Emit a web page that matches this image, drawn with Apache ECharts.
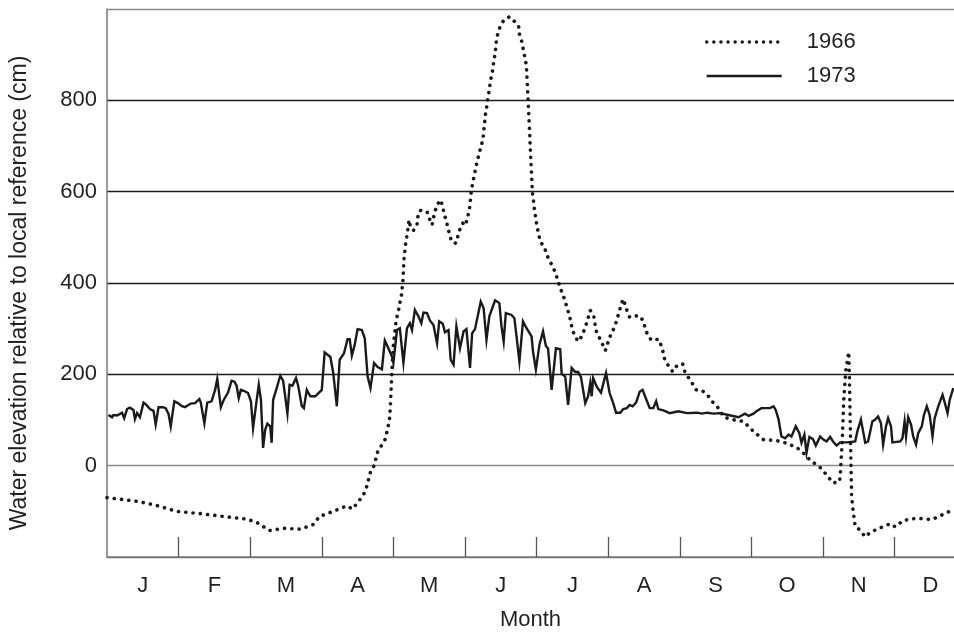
<!DOCTYPE html>
<html>
<head>
    <meta charset="utf-8">
    <title>Water elevation</title>
    <script src="https://cdn.jsdelivr.net/npm/echarts@6/dist/echarts.min.js"></script>
    <style>
        html, body {
            margin: 0;
            padding: 0;
            background: #fff;
        }
        #main {
            width: 954px;
            height: 632px;
        }
    </style>
</head>
<body>
<div id="main"></div>
<script>
    // x is in months from 1 January (0 = start of J, 12 = end of D)
    let monthLabels = ['J', 'F', 'M', 'A', 'M', 'J', 'J', 'A', 'S', 'O', 'N', 'D'];
    let monthBounds = [1, 2, 3, 4, 5, 6, 7, 8, 9, 10, 11];
    let monthCenters = [0.5, 1.5, 2.5, 3.5, 4.5, 5.5, 6.5, 7.5, 8.5, 9.5, 10.5, 11.5];
    let yTicks = [0, 200, 400, 600, 800];

    let x1966 = [0.00, 0.42, 0.69, 0.97, 1.30, 1.67, 1.95, 2.09, 2.27, 2.46, 2.70, 2.88, 2.97, 3.16, 3.35, 3.43,
        3.55, 3.61, 3.68, 3.73, 3.78, 3.89, 3.93, 3.95, 3.966, 3.98, 4.00, 4.036, 4.078, 4.113, 4.134, 4.148,
        4.169, 4.197, 4.218, 4.24, 4.28, 4.33, 4.34, 4.37, 4.47, 4.50, 4.54, 4.56, 4.58, 4.61, 4.66, 4.69,
        4.71, 4.74, 4.76, 4.79, 4.81, 4.87, 4.90, 4.93, 4.97, 5.01, 5.03, 5.06, 5.07, 5.09, 5.11, 5.13,
        5.15, 5.17, 5.20, 5.22, 5.25, 5.26, 5.27, 5.28, 5.29, 5.31, 5.32, 5.34, 5.35, 5.37, 5.39, 5.40,
        5.42, 5.43, 5.44, 5.46, 5.49, 5.54, 5.62, 5.69, 5.75, 5.76, 5.79, 5.81, 5.83, 5.85, 5.86, 5.87,
        5.885, 5.894, 5.904, 5.912, 5.922, 5.932, 5.94, 5.954, 5.964, 5.978, 5.992, 6.01, 6.03, 6.05, 6.11, 6.14,
        6.18, 6.23, 6.27, 6.30, 6.33, 6.37, 6.40, 6.43, 6.46, 6.48, 6.50, 6.54, 6.58, 6.63, 6.67, 6.70,
        6.75, 6.80, 6.83, 6.88, 6.92, 6.96, 6.98, 7.04, 7.09, 7.12, 7.16, 7.18, 7.21, 7.26, 7.30, 7.36,
        7.44, 7.49, 7.52, 7.56, 7.61, 7.70, 7.75, 7.79, 7.84, 7.90, 7.96, 8.04, 8.07, 8.12, 8.18, 8.23,
        8.31, 8.40, 8.45, 8.52, 8.62, 8.73, 8.89, 9.03, 9.17, 9.35, 9.52, 9.68, 9.83, 9.96, 10.06, 10.14,
        10.23, 10.24, 10.27, 10.29, 10.32, 10.36, 10.37, 10.38, 10.39, 10.40, 10.42, 10.45, 10.51, 10.59, 10.66, 10.79,
        10.94, 11.01, 11.12, 11.31, 11.52, 11.62, 11.77, 11.83];
    let y1966 = [-70, -78, -87, -100, -105, -112, -117, -124, -142, -137, -139, -129, -111, -100, -88, -95,
        -71, -56, -14, 0, 30, 59, 89, 108, 159, 210, 265, 315, 345, 374, 407, 451,
        484, 512, 538, 522, 515, 527, 544, 559, 556, 542, 527, 542, 556, 571, 582, 566,
        551, 536, 520, 505, 491, 487, 502, 518, 531, 526, 542, 558, 573, 604, 620, 636,
        651, 667, 683, 698, 713, 729, 745, 760, 775, 791, 807, 822, 837, 853, 869, 885,
        901, 916, 932, 947, 961, 975, 983, 973, 961, 945, 930, 915, 899, 883, 868, 837,
        790, 759, 726, 695, 663, 632, 600, 584, 569, 553, 537, 521, 506, 491, 478, 463,
        449, 435, 419, 404, 389, 374, 359, 344, 328, 313, 297, 283, 272, 283, 299, 313,
        340, 327, 296, 279, 266, 252, 262, 289, 303, 319, 340, 352, 365, 341, 325, 328,
        328, 317, 299, 283, 274, 277, 260, 232, 219, 206, 219, 223, 206, 193, 179, 166,
        165, 152, 141, 130, 106, 101, 97, 75, 57, 55, 48, 35, 11, -4, -22, -38,
        -35, -24, 57, 144, 210, 249, 188, 101, 13, -67, -97, -133, -140, -156, -146, -137,
        -127, -134, -120, -115, -118, -111, -100, -99];

    let x1973 = [0.02, 0.07, 0.09, 0.14, 0.18, 0.21, 0.24, 0.28, 0.32, 0.37, 0.39, 0.42, 0.46, 0.51, 0.55, 0.60,
        0.65, 0.68, 0.72, 0.78, 0.82, 0.86, 0.89, 0.94, 0.99, 1.04, 1.09, 1.12, 1.17, 1.23, 1.29, 1.31,
        1.36, 1.40, 1.46, 1.51, 1.54, 1.59, 1.63, 1.69, 1.74, 1.78, 1.81, 1.84, 1.87, 1.91, 1.97, 2.01,
        2.04, 2.09, 2.12, 2.15, 2.18, 2.21, 2.24, 2.28, 2.30, 2.32, 2.37, 2.42, 2.46, 2.52, 2.55, 2.59,
        2.64, 2.67, 2.72, 2.75, 2.79, 2.84, 2.91, 3.00, 3.04, 3.12, 3.16, 3.21, 3.25, 3.31, 3.36, 3.39,
        3.42, 3.46, 3.50, 3.56, 3.60, 3.64, 3.68, 3.73, 3.78, 3.80, 3.84, 3.88, 3.93, 3.98, 4.00, 4.05,
        4.09, 4.14, 4.19, 4.23, 4.26, 4.30, 4.35, 4.39, 4.42, 4.47, 4.51, 4.56, 4.61, 4.64, 4.69, 4.72,
        4.77, 4.80, 4.84, 4.88, 4.93, 4.98, 5.02, 5.07, 5.10, 5.14, 5.22, 5.26, 5.30, 5.34, 5.42, 5.48,
        5.51, 5.54, 5.57, 5.65, 5.69, 5.72, 5.76, 5.81, 5.86, 5.93, 5.95, 5.99, 6.04, 6.09, 6.13, 6.16,
        6.21, 6.27, 6.33, 6.35, 6.40, 6.44, 6.49, 6.54, 6.58, 6.62, 6.68, 6.72, 6.75, 6.77, 6.79, 6.84,
        6.90, 6.97, 7.02, 7.07, 7.11, 7.17, 7.21, 7.26, 7.30, 7.34, 7.39, 7.44, 7.48, 7.53, 7.58, 7.63,
        7.67, 7.70, 7.77, 7.86, 7.98, 8.10, 8.24, 8.31, 8.38, 8.47, 8.56, 8.68, 8.82, 8.91, 8.96, 9.03,
        9.07, 9.14, 9.26, 9.31, 9.34, 9.38, 9.42, 9.47, 9.52, 9.56, 9.62, 9.67, 9.70, 9.74, 9.77, 9.81,
        9.86, 9.90, 9.96, 10.00, 10.05, 10.10, 10.14, 10.19, 10.24, 10.33, 10.45, 10.48, 10.53, 10.59, 10.63, 10.69,
        10.73, 10.77, 10.81, 10.84, 10.88, 10.91, 10.95, 10.97, 11.08, 11.11, 11.14, 11.16, 11.19, 11.23, 11.26, 11.30,
        11.33, 11.38, 11.41, 11.45, 11.49, 11.53, 11.56, 11.61, 11.63, 11.67, 11.69, 11.74, 11.77, 11.82];
    let y1973 = [111, 106, 111, 110, 113, 116, 104, 124, 127, 122, 102, 115, 106, 138, 133, 124,
        120, 90, 128, 128, 126, 113, 86, 141, 137, 131, 128, 131, 136, 137, 146, 138,
        93, 138, 141, 166, 190, 128, 144, 160, 186, 184, 175, 148, 166, 164, 159, 141,
        82, 143, 177, 144, 39, 79, 92, 86, 50, 144, 170, 197, 186, 114, 177, 175,
        192, 175, 131, 126, 166, 152, 152, 166, 248, 238, 203, 130, 232, 246, 277, 277,
        241, 265, 299, 297, 279, 195, 170, 225, 216, 217, 211, 274, 257, 239, 225, 297,
        301, 225, 301, 312, 297, 341, 327, 312, 335, 334, 318, 308, 268, 316, 311, 292,
        297, 232, 221, 305, 257, 294, 299, 214, 290, 299, 359, 345, 276, 327, 362, 356,
        305, 272, 334, 330, 323, 283, 228, 316, 301, 283, 250, 210, 265, 294, 262, 257,
        166, 257, 255, 201, 195, 133, 214, 205, 205, 194, 137, 152, 181, 152, 192, 173,
        160, 203, 159, 137, 116, 116, 124, 126, 133, 130, 138, 162, 166, 146, 126, 126,
        141, 124, 121, 115, 119, 115, 116, 114, 116, 114, 115, 111, 106, 114, 109, 114,
        119, 126, 126, 130, 122, 101, 64, 60, 68, 64, 86, 71, 50, 68, 28, 63,
        58, 44, 64, 58, 53, 63, 53, 44, 51, 51, 53, 75, 101, 50, 53, 97,
        101, 108, 93, 46, 86, 104, 86, 51, 53, 60, 97, 64, 106, 90, 64, 46,
        71, 86, 111, 130, 111, 64, 104, 130, 130, 155, 144, 115, 144, 170];

    let data1966 = x1966.map((x, i)=> [x, y1966[i]]);
    let data1973 = x1973.map((x, i)=> [x, y1973[i]]);

    let font = 'Liberation Sans, Arial, Helvetica, sans-serif';
    let dotted = {color: '#1a1a1a', width: 3.6, type: [0.1, 7.2], cap: 'round'};
    let solid = {color: '#1a1a1a', width: 2.4, join: 'miter'};

    let myChart = echarts.init(document.getElementById('main'), null, {renderer: 'canvas'});

    let option = {
        animation: false,
        backgroundColor: '#fff',
        color: ['#1a1a1a', '#1a1a1a'],
        textStyle: {
            fontFamily: font,
            fontSize: 22,
            color: '#231f20'
        },
        grid: {
            left: 107,
            right: 0,
            top: 9,
            bottom: 75,
            outerBoundsMode: 'none'
        },
        legend: {
            orient: 'vertical',
            left: 700,
            top: 26,
            itemWidth: 75,
            itemHeight: 22,
            itemGap: 12,
            itemStyle: {opacity: 0},
            textStyle: {
                fontFamily: font,
                fontSize: 22,
                lineHeight: 22,
                color: '#231f20',
                padding: [0, 0, 0, 20]
            },
            data: [
                {name: '1966', lineStyle: {width: 3.4, type: [0.1, 7], cap: 'round'}},
                {name: '1973', lineStyle: {width: 2.4}}
            ]
        },
        xAxis: {
            type: 'value',
            min: 0,
            max: 11.83,
            name: 'Month',
            nameLocation: 'middle',
            nameGap: 52,
            nameTextStyle: {
                fontFamily: font,
                fontSize: 22,
                color: '#231f20'
            },
            axisLine: {
                onZero: false,
                lineStyle: {color: '#7a7a7a', width: 1.5}
            },
            axisTick: {
                show: true,
                inside: true,
                length: 20,
                customValues: monthBounds,
                lineStyle: {color: '#555', width: 1.3}
            },
            axisLabel: {
                customValues: monthCenters,
                margin: 18,
                fontFamily: font,
                fontSize: 22,
                color: '#231f20',
                formatter: function (v) {
                    return monthLabels[Math.floor(v)];
                }
            },
            splitLine: {show: false}
        },
        yAxis: {
            type: 'value',
            min: -200,
            max: 1000,
            interval: 200,
            name: 'Water elevation relative to local reference (cm)',
            nameLocation: 'middle',
            nameGap: 76,
            nameTextStyle: {
                fontFamily: font,
                fontSize: 23,
                color: '#231f20',
                padding: [0, 20, 0, 0]
            },
            axisLine: {
                show: true,
                onZero: false,
                lineStyle: {color: '#7a7a7a', width: 1.5}
            },
            axisTick: {show: false},
            axisLabel: {
                margin: 10,
                fontFamily: font,
                fontSize: 22,
                color: '#231f20',
                formatter: function (v) {
                    return yTicks.indexOf(v) >= 0 ? String(v) : '';
                }
            },
            splitLine: {
                show: true,
                // -200, 0, 200 ... 800, 1000 (top border)
                lineStyle: {
                    color: ['#7a7a7a', '#8a8a8a', '#1a1a1a', '#1a1a1a', '#1a1a1a', '#1a1a1a', '#8a8a8a'],
                    width: 1.4
                }
            }
        },
        series: [
            {
                name: '1966',
                type: 'line',
                data: data1966,
                symbol: 'none',
                z: 3,
                lineStyle: dotted
            },
            {
                name: '1973',
                type: 'line',
                data: data1973,
                symbol: 'none',
                z: 4,
                lineStyle: solid
            }
        ]
    };
    // draw it
    myChart.setOption(option);
</script>
</body>
</html>
